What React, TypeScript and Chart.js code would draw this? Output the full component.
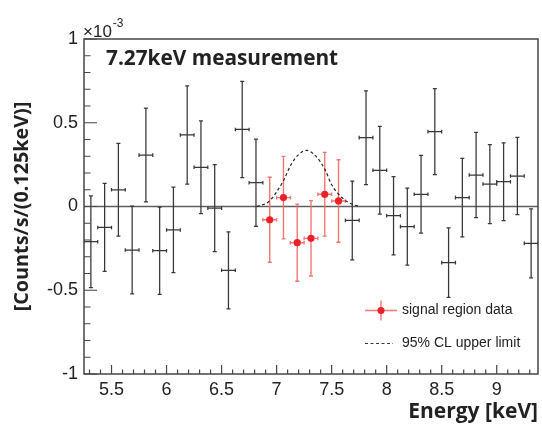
import React, { useEffect, useRef } from 'react';
import { Chart, registerables } from 'chart.js';

Chart.register(...registerables);

// ---- data (rates in units of 1e-3 counts/s/0.125keV) ----
const bgEnergy = [5.3125, 5.4375, 5.5625, 5.6875, 5.8125, 5.9375, 6.0625, 6.1875, 6.3125, 6.4375, 6.5625, 6.6875, 6.8125,
  7.6875, 7.8125, 7.9375, 8.0625, 8.1875, 8.3125, 8.4375, 8.5625, 8.6875, 8.8125, 8.9375, 9.0625, 9.1875, 9.3125];
const bgRate = [-0.21, -0.125, 0.10, -0.26, 0.307, -0.264, -0.14, 0.427, 0.234, -0.01, -0.381, 0.46, 0.142,
  -0.083, 0.411, 0.216, -0.055, -0.12, 0.073, 0.447, -0.335, 0.053, 0.188, 0.134, 0.148, 0.182, -0.22];
const bgErr = [0.274, 0.263, 0.277, 0.262, 0.28, 0.26, 0.255, 0.293, 0.277, 0.26, 0.23, 0.287, 0.26,
  0.235, 0.28, 0.262, 0.234, 0.23, 0.232, 0.257, 0.207, 0.234, 0.254, 0.236, 0.232, 0.231, 0.206];

const sigEnergy = [6.9375, 7.0625, 7.1875, 7.3125, 7.4375, 7.5625];
const sigRate = [-0.079, 0.053, -0.216, -0.19, 0.073, 0.033];
const sigErr = [0.254, 0.246, 0.23, 0.225, 0.25, 0.246];

const binHalfWidth = 0.0625;

const limitEnergy = [6.82, 6.93, 7.05, 7.14, 7.2, 7.27, 7.35, 7.44, 7.5, 7.59, 7.68, 7.76];
const limitRate = [0.0, 0.03, 0.14, 0.26, 0.31, 0.335, 0.305, 0.22, 0.13, 0.055, 0.015, 0.0];

const xMin = 5.25;
const xMax = 9.375;
const yMin = -1;
const yMax = 1;

const titleText = '7.27keV measurement';
const xTitle = 'Energy [keV]';
const yTitle = '[Counts/s/(0.125keV)]';
const legendSignal = 'signal region data';
const legendLimit = '95% CL upper limit';

const RED = 'rgb(236, 32, 38)';
const RED_BAR = 'rgba(240, 105, 100, 0.9)';
const DARK = 'rgb(55, 55, 55)';
const TXT = '#222';
const SANS = '"Liberation Sans", Arial, sans-serif';
const BOLD = '"Open Sans", "Noto Sans", sans-serif';

const fmt = (v: number) => String(Number(Number(v).toFixed(2)));

const errorBarPlugin = {
  id: 'errorBars',
  beforeDatasetsDraw(chart: any) {
    const { ctx, chartArea } = chart;
    const xs = chart.scales.x;
    const ys = chart.scales.y;
    ctx.save();
    ctx.beginPath();
    ctx.rect(chartArea.left, chartArea.top, chartArea.right - chartArea.left, chartArea.bottom - chartArea.top);
    ctx.clip();
    // zero line
    const y0 = ys.getPixelForValue(0);
    ctx.strokeStyle = 'rgb(95,95,95)';
    ctx.lineWidth = 1.6;
    ctx.beginPath();
    ctx.moveTo(chartArea.left, y0);
    ctx.lineTo(chartArea.right, y0);
    ctx.stroke();

    chart.data.datasets.forEach((ds: any, di: number) => {
      if (!ds.errY) return;
      const meta = chart.getDatasetMeta(di);
      ctx.strokeStyle = ds.errColor;
      ctx.lineWidth = ds.errWidth;
      meta.data.forEach((el: any, i: number) => {
        const pt = ds.data[i];
        const e = ds.errY[i];
        const px = el.x;
        const py = el.y;
        const yt = ys.getPixelForValue(pt.y + e);
        const yb = ys.getPixelForValue(pt.y - e);
        const xl = xs.getPixelForValue(pt.x - binHalfWidth);
        const xr = xs.getPixelForValue(pt.x + binHalfWidth);
        ctx.beginPath();
        ctx.moveTo(px, yt); ctx.lineTo(px, yb);
        ctx.moveTo(px - 2, yt); ctx.lineTo(px + 2, yt);
        ctx.moveTo(px - 2, yb); ctx.lineTo(px + 2, yb);
        ctx.moveTo(xl, py); ctx.lineTo(xr, py);
        ctx.moveTo(xl, py - 1.8); ctx.lineTo(xl, py + 1.8);
        ctx.moveTo(xr, py - 1.8); ctx.lineTo(xr, py + 1.8);
        ctx.stroke();
      });
    });
    ctx.restore();
  },
  afterDraw(chart: any) {
    const { ctx, chartArea } = chart;
    const xs = chart.scales.x;
    const ys = chart.scales.y;
    const { left, right, top, bottom } = chartArea;
    ctx.save();
    // frame
    ctx.strokeStyle = 'rgb(70,70,70)';
    ctx.lineWidth = 1.5;
    ctx.strokeRect(left, top, right - left, bottom - top);
    // ticks
    ctx.lineWidth = 1.2;
    ctx.beginPath();
    for (let k = Math.ceil(yMin * 10 - 1e-6); k <= Math.floor(yMax * 10 + 1e-6); k++) {
      const v = k / 10;
      const py = ys.getPixelForValue(v);
      const major = Math.abs(k % 5) === 0;
      ctx.moveTo(left, py);
      ctx.lineTo(left + (major ? 13 : 6.5), py);
    }
    for (let k = Math.ceil(xMin * 10 - 1e-6); k <= Math.floor(xMax * 10 + 1e-6); k++) {
      const v = k / 10;
      const px = xs.getPixelForValue(v);
      const major = Math.abs(k % 5) === 0;
      ctx.moveTo(px, bottom);
      ctx.lineTo(px, bottom - (major ? 9 : 4.5));
    }
    ctx.stroke();

    // exponent label
    ctx.fillStyle = TXT;
    ctx.textBaseline = 'alphabetic';
    ctx.textAlign = 'left';
    ctx.font = `17px ${SANS}`;
    ctx.fillText('\u00d710', 83, 37);
    const w = ctx.measureText('\u00d710').width;
    ctx.font = `12px ${SANS}`;
    ctx.fillText('-3', 83 + w + 1, 27);

    // title
    ctx.font = `bold 20.8px ${BOLD}`;
    ctx.textBaseline = 'middle';
    ctx.fillText(titleText, 106, 59.5);

    // legend
    const lx = 381;
    const ly1 = 310.5;
    ctx.strokeStyle = RED_BAR;
    ctx.lineWidth = 1.4;
    ctx.beginPath();
    ctx.moveTo(lx - 16, ly1); ctx.lineTo(lx + 16, ly1);
    ctx.moveTo(lx, ly1 - 10); ctx.lineTo(lx, ly1 + 10);
    ctx.stroke();
    ctx.fillStyle = RED;
    ctx.beginPath();
    ctx.arc(lx, ly1, 3.5, 0, Math.PI * 2);
    ctx.fill();
    ctx.fillStyle = TXT;
    ctx.font = `14px ${SANS}`;
    ctx.fillText(legendSignal, 402, ly1);

    const ly2 = 343.5;
    ctx.strokeStyle = DARK;
    ctx.lineWidth = 1.1;
    ctx.setLineDash([3, 2.5]);
    ctx.beginPath();
    ctx.moveTo(365, ly2); ctx.lineTo(393, ly2);
    ctx.stroke();
    ctx.setLineDash([]);
    ctx.fillText(legendLimit, 402, ly2);
    ctx.restore();
  },
};

export default function App() {
  const ref = useRef<HTMLCanvasElement | null>(null);
  useEffect(() => {
    document.body.style.margin = '0';
    const canvas = ref.current;
    if (!canvas) return;
    const chart = new Chart(canvas, {
      type: 'scatter',
      data: {
        datasets: [
          {
            label: legendSignal,
            data: sigEnergy.map((e, i) => ({ x: e, y: sigRate[i] })),
            errY: sigErr,
            errColor: RED_BAR,
            errWidth: 1.4,
            pointRadius: 3.6,
            pointBackgroundColor: RED,
            pointBorderColor: RED,
            pointBorderWidth: 0,
            showLine: false,
          } as any,
          {
            label: 'background',
            data: bgEnergy.map((e, i) => ({ x: e, y: bgRate[i] })),
            errY: bgErr,
            errColor: DARK,
            errWidth: 1.25,
            pointRadius: 0,
            showLine: false,
          } as any,
          {
            label: legendLimit,
            data: limitEnergy.map((e, i) => ({ x: e, y: limitRate[i] })),
            showLine: true,
            borderColor: 'rgb(40,40,40)',
            borderWidth: 1.2,
            borderDash: [3, 2.5],
            pointRadius: 0,
            cubicInterpolationMode: 'monotone',
            fill: false,
          } as any,
        ],
      },
      options: {
        responsive: false,
        animation: false,
        events: [],
        devicePixelRatio: 1,
        layout: { padding: { top: 39, right: 1, left: 0, bottom: 0 } },
        plugins: { legend: { display: false }, tooltip: { enabled: false }, title: { display: false } },
        scales: {
          x: {
            type: 'linear',
            min: xMin,
            max: xMax,
            grid: { display: false, drawTicks: false, tickLength: 0 },
            border: { display: false },
            ticks: {
              stepSize: 0.5,
              includeBounds: false,
              maxRotation: 0,
              autoSkip: false,
              padding: 5,
              color: TXT,
              font: { family: SANS, size: 18 },
              callback: (v: any) => fmt(v),
            },
            title: {
              display: true,
              text: xTitle,
              align: 'end',
              color: TXT,
              font: { family: BOLD, size: 21, weight: 'bold', lineHeight: 1 },
              padding: { top: 0, bottom: 1.5 },
            },
            afterFit: (s: any) => { s.height = 50; },
          },
          y: {
            type: 'linear',
            min: yMin,
            max: yMax,
            grid: { display: false, drawTicks: false, tickLength: 0 },
            border: { display: false },
            ticks: {
              stepSize: 0.5,
              autoSkip: false,
              padding: 6,
              color: TXT,
              font: { family: SANS, size: 18 },
              callback: (v: any) => fmt(v),
            },
            title: {
              display: true,
              text: yTitle,
              color: TXT,
              font: { family: BOLD, size: 19.8, weight: 'bold', lineHeight: 1 },
              padding: { top: 12, bottom: 0 },
            },
            afterFit: (s: any) => { s.width = 84; },
          },
        },
      } as any,
      plugins: [errorBarPlugin],
    });
    return () => chart.destroy();
  }, []);
  return (
    <div style={{ width: 542, height: 424, background: '#fff' }}>
      <canvas ref={ref} width={542} height={424} style={{ display: 'block' }} />
    </div>
  );
}
